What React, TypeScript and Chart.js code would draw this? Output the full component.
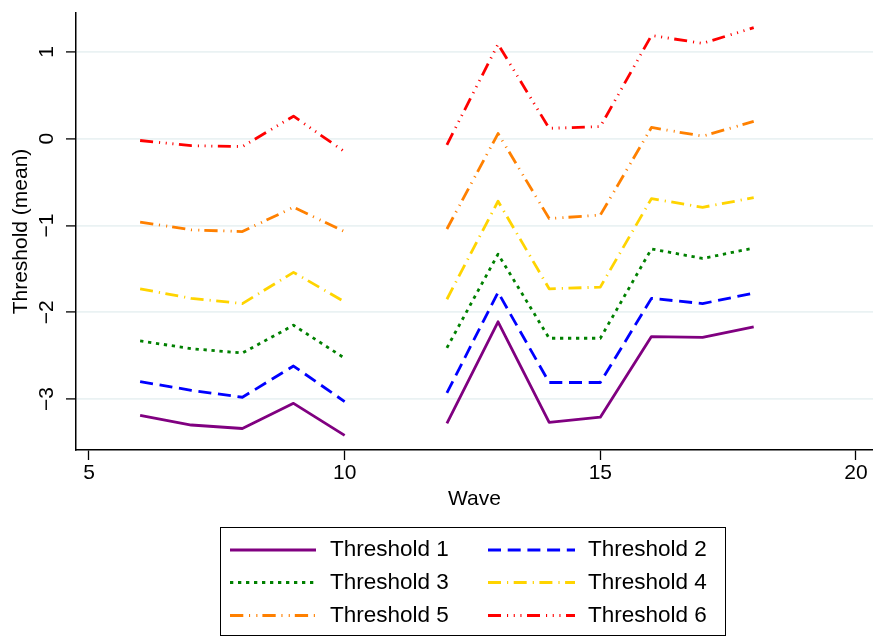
import React, { useEffect, useRef } from "react";
import { Chart, registerables } from "chart.js";

Chart.register(...registerables);

const WAVES = [6, 7, 8, 9, 10, 11, 12, 13, 14, 15, 16, 17, 18];
const T1 = [-3.19, -3.3, -3.34, -3.05, -3.42, null, -3.28, -2.11, -3.27, -3.21, -2.28, -2.29, -2.17];
const T2 = [-2.8, -2.9, -2.98, -2.62, -3.03, null, -2.93, -1.77, -2.81, -2.81, -1.84, -1.9, -1.78];
const T3 = [-2.33, -2.42, -2.47, -2.15, -2.53, null, -2.41, -1.33, -2.3, -2.3, -1.27, -1.38, -1.26];
const T4 = [-1.73, -1.84, -1.9, -1.54, -1.88, null, -1.85, -0.72, -1.73, -1.71, -0.69, -0.79, -0.68];
const T5 = [-0.96, -1.05, -1.07, -0.79, -1.07, null, -1.04, 0.06, -0.92, -0.88, 0.13, 0.03, 0.2];
const T6 = [-0.02, -0.08, -0.09, 0.26, -0.15, null, -0.07, 1.09, 0.12, 0.14, 1.19, 1.1, 1.28];

const SERIES_LABELS = ["Threshold 1", "Threshold 2", "Threshold 3", "Threshold 4", "Threshold 5", "Threshold 6"];
const X_TICKS = [5, 10, 15, 20];
const Y_TICKS = [-3, -2, -1, 0, 1];
const Y_TICK_LABELS = ["\u22123", "\u22122", "\u22121", "0", "1"];
const X_TITLE = "Wave";
const Y_TITLE = "Threshold (mean)";

const FONT = "'Liberation Sans', Arial, Helvetica, sans-serif";

const STYLES = [
  { color: "#800080", dash: [] as number[] },
  { color: "#0000FF", dash: [13, 6.7] },
  { color: "#008000", dash: [3.3, 4.7] },
  { color: "#FFD400", dash: [13, 6, 1.2, 5.5] },
  { color: "#FF8000", dash: [13.3, 5.7, 1.1, 6.2, 1.1, 5] },
  { color: "#FF0000", dash: [13, 6, 1.1, 5.6, 1.1, 5.6, 1.1, 5.5] },
];

export default function App() {
  const ref = useRef<HTMLCanvasElement>(null);

  useEffect(() => {
    if (!ref.current) return;
    const series = [T1, T2, T3, T4, T5, T6];
    const datasets = series.map((vals, i) => ({
      label: SERIES_LABELS[i],
      data: WAVES.map((w, j) => ({ x: w, y: vals[j] })),
      borderColor: STYLES[i].color,
      backgroundColor: STYLES[i].color,
      borderDash: STYLES[i].dash,
      borderWidth: 2.8,
      pointRadius: 0,
      pointHoverRadius: 0,
      tension: 0,
      spanGaps: false,
      borderCapStyle: "butt" as const,
      borderJoinStyle: "round" as const,
    }));

    const customDraw = {
      id: "customDraw",
      afterDraw(chart: any) {
        const ctx = chart.ctx as CanvasRenderingContext2D;
        const ys = chart.scales.y;
        ctx.save();
        ctx.fillStyle = "#000";
        ctx.font = `21px ${FONT}`;
        ctx.textAlign = "center";
        ctx.textBaseline = "middle";
        Y_TICKS.forEach((v, i) => {
          const py = ys.getPixelForValue(v);
          ctx.save();
          ctx.translate(47, py);
          ctx.rotate(-Math.PI / 2);
          ctx.fillText(Y_TICK_LABELS[i], 0, 0);
          ctx.restore();
        });

        // legend box
        ctx.setLineDash([]);
        ctx.strokeStyle = "#000";
        ctx.lineWidth = 1;
        ctx.strokeRect(220.5, 527.5, 505, 108);

        const cols = [
          { x0: 230, x1: 316, tx: 330 },
          { x0: 488, x1: 575, tx: 588 },
        ];
        const rows = [550, 582.5, 615.5];
        ctx.font = `22.5px ${FONT}`;
        ctx.textAlign = "left";
        chart.data.datasets.forEach((ds: any, i: number) => {
          const c = cols[i % 2];
          const ry = rows[Math.floor(i / 2)];
          ctx.save();
          ctx.strokeStyle = ds.borderColor;
          ctx.lineWidth = 2.8;
          ctx.lineCap = "butt";
          ctx.setLineDash(ds.borderDash || []);
          ctx.beginPath();
          ctx.moveTo(c.x0, ry);
          ctx.lineTo(c.x1, ry);
          ctx.stroke();
          ctx.restore();
          ctx.fillStyle = "#000";
          ctx.fillText(ds.label, c.tx, ry);
        });
        ctx.restore();
      },
    };

    const chart = new Chart(ref.current, {
      type: "line",
      data: { datasets },
      plugins: [customDraw],
      options: {
        animation: false,
        responsive: false,
        maintainAspectRatio: false,
        events: [],
        layout: { padding: { top: 13, right: 0, left: 0, bottom: 121 } },
        plugins: {
          legend: { display: false },
          tooltip: { enabled: false },
        },
        scales: {
          x: {
            type: "linear",
            min: 4.746,
            max: 20.333,
            afterBuildTicks: (scale: any) => {
              scale.ticks = X_TICKS.map((v) => ({ value: v }));
            },
            afterFit: (scale: any) => {
              scale.height = 66;
            },
            border: { display: true, color: "#000", width: 1.5 },
            grid: {
              display: true,
              drawOnChartArea: false,
              drawTicks: true,
              tickLength: 10,
              tickColor: "#000",
              tickWidth: 1.3,
            },
            ticks: {
              color: "#000",
              font: { family: FONT, size: 21 },
              padding: 1,
              maxRotation: 0,
              minRotation: 0,
              callback: (v: any) => String(v),
            },
            title: {
              display: true,
              text: X_TITLE,
              color: "#000",
              font: { family: FONT, size: 21, lineHeight: 1 },
              padding: { top: 0, bottom: 6 },
            },
          },
          y: {
            type: "linear",
            min: -3.588,
            max: 1.4496,
            afterBuildTicks: (scale: any) => {
              scale.ticks = Y_TICKS.map((v) => ({ value: v }));
            },
            afterFit: (scale: any) => {
              scale.width = 76;
            },
            border: { display: true, color: "#000", width: 1.5 },
            grid: {
              display: true,
              color: "#EAF2F3",
              lineWidth: 1.8,
              drawTicks: true,
              tickLength: 10,
              tickColor: "#000",
              tickWidth: 1.3,
            },
            ticks: { display: false },
            title: {
              display: true,
              text: Y_TITLE,
              color: "#000",
              font: { family: FONT, size: 21, lineHeight: 1 },
              padding: { top: 11, bottom: 0 },
            },
          },
        },
      },
    } as any);

    return () => chart.destroy();
  }, []);

  return (
    <div style={{ position: "fixed", left: 0, top: 0, width: 873, height: 637, background: "#fff" }}>
      <canvas ref={ref} width={873} height={637} style={{ width: 873, height: 637, display: "block" }} />
    </div>
  );
}
